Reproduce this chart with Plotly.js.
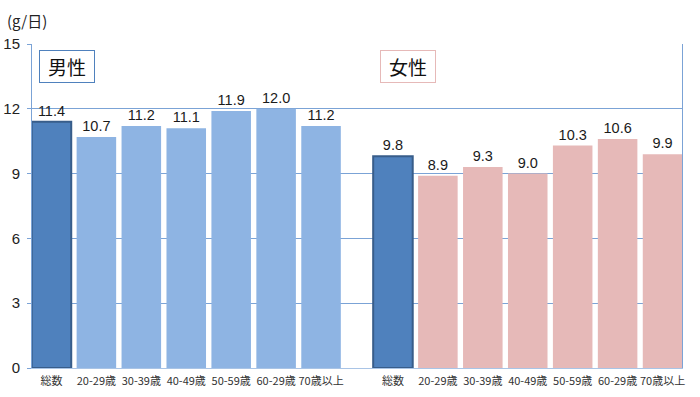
<!DOCTYPE html>
<html>
<head>
<meta charset="utf-8">
<script src="https://cdn.plot.ly/plotly-3.0.1.min.js"></script>
<style>html,body{margin:0;padding:0;background:#fff;}#chart{width:700px;height:397px;}</style>
</head>
<body>
<div id="chart"></div>
<script>
// Data
const categories = ["総数", "20-29歳", "30-39歳", "40-49歳", "50-59歳", "60-29歳", "70歳以上"];
const maleValues = [11.4, 10.7, 11.2, 11.1, 11.9, 12.0, 11.2];
const femaleValues = [9.8, 8.9, 9.3, 9.0, 10.3, 10.6, 9.9];
const yTicks = [0, 3, 6, 9, 12, 15];
const groupLabels = ["男性", "女性"];
const unitLabel = "(g/日)";

// Layout helpers (positions derived from index)
const groupGap = 0.6;
const maleX = categories.map((c, i) => i);
const femaleX = categories.map((c, i) => i + categories.length + groupGap);

const totalFill = "#4F81BD", totalLine = "#385D8A";
const maleFill = "#8EB4E3", femaleFill = "#E6B9B8";

const maleColors = categories.map((c, i) => i === 0 ? totalFill : maleFill);
const femaleColors = categories.map((c, i) => i === 0 ? totalFill : femaleFill);
const lineW = categories.map((c, i) => i === 0 ? 2 : 0);

const labelFont = {family: "Liberation Sans, Arial, sans-serif", size: 14.5, color: "#1a1a1a"};

const traces = [
  {
    type: "bar", x: maleX, y: maleValues, width: 0.88,
    marker: {color: maleColors, line: {color: totalLine, width: lineW}},
    text: maleValues.map(v => v.toFixed(1)), textposition: "outside",
    textfont: labelFont, cliponaxis: false, hoverinfo: "skip"
  },
  {
    type: "bar", x: femaleX, y: femaleValues, width: 0.88,
    marker: {color: femaleColors, line: {color: totalLine, width: lineW}},
    text: femaleValues.map(v => v.toFixed(1)), textposition: "outside",
    textfont: labelFont, cliponaxis: false, hoverinfo: "skip"
  }
];

const gridC = "#7BA3D6";

const layout = {
  width: 700, height: 397,
  margin: {l: 32, r: 18, t: 44, b: 29},
  paper_bgcolor: "#fff", plot_bgcolor: "#fff",
  showlegend: false,
  barmode: "overlay",
  xaxis: {
    range: [-0.433, femaleX[femaleX.length - 1] + 0.433],
    tickvals: maleX.concat(femaleX),
    ticktext: categories.concat(categories),
    tickfont: {family: "Noto Sans CJK JP, sans-serif", size: 11, color: "#333"},
    showgrid: false, zeroline: false,
    showline: true, linecolor: "#A9C4E6", linewidth: 1,
    ticks: "", ticklabelstandoff: 3
  },
  yaxis: {
    range: [0, 15],
    tickvals: yTicks,
    ticktext: yTicks.map(String),
    tickfont: {family: "Liberation Sans, Arial, sans-serif", size: 15, color: "#222"},
    showgrid: true, gridcolor: gridC, gridwidth: 1,
    zeroline: false,
    showline: true, linecolor: gridC, linewidth: 1, mirror: true,
    ticks: "outside", ticklen: 4, tickcolor: gridC,
    ticklabelstandoff: 4
  },
  annotations: [
    {
      xref: "paper", yref: "paper", x: -27/650, y: 1 + 24/324, xanchor: "left", yanchor: "middle",
      text: unitLabel, showarrow: false,
      font: {family: "Noto Sans CJK JP, sans-serif", size: 15, color: "#222"}
    },
    {
      xref: "paper", yref: "paper", x: (66.5 - 32)/650, y: (368 - 66.5)/324, xanchor: "center", yanchor: "middle",
      text: groupLabels[0], showarrow: false, width: 52, height: 29,
      bordercolor: "#4F81BD", borderwidth: 1, bgcolor: "#fff",
      font: {family: "Noto Sans CJK JP, sans-serif", size: 19, color: "#111"}
    },
    {
      xref: "paper", yref: "paper", x: (408 - 32)/650, y: (368 - 66.5)/324, xanchor: "center", yanchor: "middle",
      text: groupLabels[1], showarrow: false, width: 52, height: 29,
      bordercolor: "#E6B9B8", borderwidth: 1, bgcolor: "#fff",
      font: {family: "Noto Sans CJK JP, sans-serif", size: 19, color: "#111"}
    }
  ]
};

Plotly.newPlot("chart", traces, layout, {staticPlot: true, displayModeBar: false});
</script>
</body>
</html>
